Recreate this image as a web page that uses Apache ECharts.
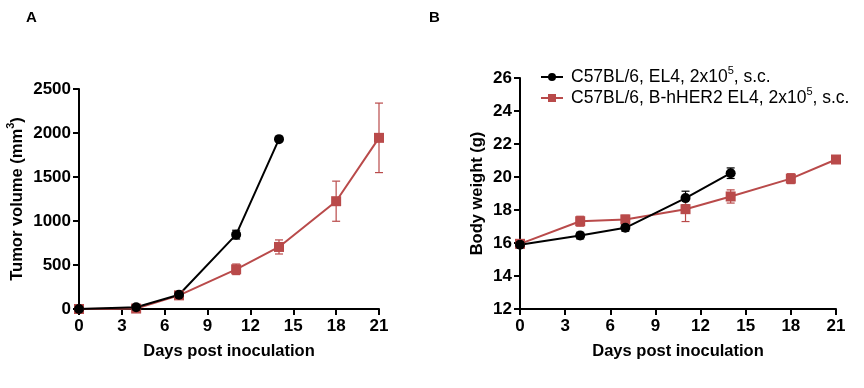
<!DOCTYPE html>
<html>
<head>
<meta charset="utf-8">
<script src="https://cdn.jsdelivr.net/npm/echarts@6/dist/echarts.min.js"></script>
<style>
html,body{margin:0;padding:0;background:#fff;}
#c{width:864px;height:388px;}
</style>
</head>
<body>
<div id="c"></div>
<script>
// Data
var days = [0, 4, 7, 11, 14, 18, 21];
var xTicks = [0, 3, 6, 9, 12, 15, 18, 21];
var seriesNames = ['C57BL/6, EL4, 2x10{sup|5}, s.c.', 'C57BL/6, B-hHER2 EL4, 2x10{sup|5}, s.c.'];

// Panel A: tumor volume (mm3)
var volEL4 = [0, 20, 162, 845, 1930];
var volEL4Err = [0, 8, 20, 50, 25];
var volHER2 = [0, 5, 155, 451, 705, 1225, 1945];
var volHER2Err = [0, 5, 20, 60, 80, 228, 395];

// Panel B: body weight (g)
var bwEL4 = [15.9, 16.45, 16.92, 18.72, 20.23];
var bwEL4Err = [0.12, 0.2, 0.2, 0.42, 0.32];
var bwHER2 = [15.95, 17.32, 17.43, 18.05, 18.82, 19.9, 21.06];
var bwHER2Err = [0.15, 0.3, 0.25, 0.75, 0.4, 0.3, 0.22];

var BLACK = '#000000';
var RED = '#b94a4a';
var FONT = 'Liberation Sans, Arial, sans-serif';

function pairs(xs, ys) { return ys.map(function (v, i) { return [xs[i], v]; }); }
function errData(xs, ys, es) { return ys.map(function (v, i) { return [xs[i], v - es[i], v + es[i]]; }); }

function errSeries(name, xi, yi, data, color) {
  return {
    type: 'custom', name: name, xAxisIndex: xi, yAxisIndex: yi, z: 1,
    silent: true,
    renderItem: function (params, api) {
      var x = api.value(0), lo = api.value(1), hi = api.value(2);
      var p1 = api.coord([x, lo]), p2 = api.coord([x, hi]);
      var w = 4;
      var st = { stroke: color, lineWidth: 1.2 };
      return {
        type: 'group',
        children: [
          { type: 'line', shape: { x1: p1[0], y1: p1[1], x2: p2[0], y2: p2[1] }, style: st },
          { type: 'line', shape: { x1: p1[0] - w, y1: p1[1], x2: p1[0] + w, y2: p1[1] }, style: st },
          { type: 'line', shape: { x1: p2[0] - w, y1: p2[1], x2: p2[0] + w, y2: p2[1] }, style: st }
        ]
      };
    },
    encode: { x: 0, y: [1, 2] },
    data: data
  };
}

function lineSeries(name, xi, yi, data, color, symbol) {
  return {
    type: 'line', name: name, xAxisIndex: xi, yAxisIndex: yi, z: 3,
    data: data, symbol: symbol, symbolSize: 10,
    showAllSymbol: true,
    lineStyle: { color: color, width: 2 },
    itemStyle: { color: color, borderWidth: 0 },
    emphasis: { disabled: true },
    clip: false
  };
}

var axisTextStyle = { color: '#000', fontFamily: FONT, fontWeight: 'bold', fontSize: 17 };
var supStyle = { fontSize: 11, fontFamily: FONT, color: '#000', verticalAlign: 'top', lineHeight: 14 };

function xAxisDef(gi) {
  return {
    type: 'value', gridIndex: gi, min: 0, max: 21, interval: 3,
    name: 'Days post inoculation', nameLocation: 'middle', nameGap: 34,
    nameTextStyle: { color: '#000', fontFamily: FONT, fontWeight: 'bold', fontSize: 16.5 },
    axisLine: { onZero: false, lineStyle: { color: '#000', width: 2 } },
    axisTick: { show: true, length: 6, lineStyle: { color: '#000', width: 2 } },
    axisLabel: Object.assign({ margin: 9 }, axisTextStyle),
    splitLine: { show: false }
  };
}

function yAxisDef(gi, min, max, interval, name) {
  return {
    type: 'value', gridIndex: gi, min: min, max: max, interval: interval,
    name: name, nameLocation: 'middle', nameRotate: 90,
    nameGap: gi === 0 ? 49 : 31,
    nameTextStyle: {
      color: '#000', fontFamily: FONT, fontWeight: 'bold', fontSize: 16.5, lineHeight: 24,
      rich: { sup: Object.assign({}, supStyle, { fontWeight: 'bold' }) }
    },
    axisLine: { show: true, onZero: false, lineStyle: { color: '#000', width: 2 } },
    axisTick: { show: true, length: 6, lineStyle: { color: '#000', width: 2 } },
    axisLabel: Object.assign({ margin: 8, formatter: function (v) { return String(v); } }, axisTextStyle),
    splitLine: { show: false }
  };
}

var chart = echarts.init(document.getElementById('c'), null, { renderer: 'canvas' });
chart.setOption({
  backgroundColor: '#fff',
  animation: false,
  title: [
    { text: 'A', left: 21, top: 5, textStyle: { fontFamily: FONT, fontWeight: 'bold', fontSize: 15, color: '#000' } },
    { text: 'B', left: 424, top: 5, textStyle: { fontFamily: FONT, fontWeight: 'bold', fontSize: 15, color: '#000' } }
  ],
  legend: {
    show: true, orient: 'vertical', left: 535, top: 60, itemGap: -3,
    itemWidth: 22, itemHeight: 10,
    data: [seriesNames[0], seriesNames[1]],
    textStyle: {
      color: '#000', fontFamily: FONT, fontSize: 17.5, lineHeight: 24, padding: [0, 0, 0, 3],
      rich: { sup: supStyle }
    }
  },
  grid: [
    { left: 79, right: 485, top: 89, bottom: 79 },
    { left: 520, right: 28, top: 78, bottom: 79 }
  ],
  xAxis: [xAxisDef(0), xAxisDef(1)],
  yAxis: [
    yAxisDef(0, 0, 2500, 500, 'Tumor volume (mm{sup|3})'),
    yAxisDef(1, 12, 26, 2, 'Body weight (g)')
  ],
  series: [
    errSeries('errA1', 0, 0, errData(days, volEL4, volEL4Err), BLACK),
    errSeries('errA2', 0, 0, errData(days, volHER2, volHER2Err), RED),
    errSeries('errB1', 1, 1, errData(days, bwEL4, bwEL4Err), BLACK),
    errSeries('errB2', 1, 1, errData(days, bwHER2, bwHER2Err), RED),
    lineSeries(seriesNames[1], 0, 0, pairs(days, volHER2), RED, 'rect'),
    lineSeries(seriesNames[0], 0, 0, pairs(days, volEL4), BLACK, 'circle'),
    lineSeries(seriesNames[1], 1, 1, pairs(days, bwHER2), RED, 'rect'),
    lineSeries(seriesNames[0], 1, 1, pairs(days, bwEL4), BLACK, 'circle')
  ]
});
</script>
</body>
</html>
